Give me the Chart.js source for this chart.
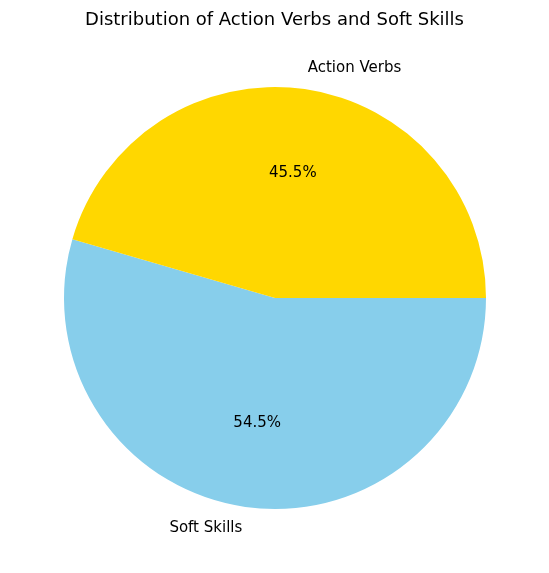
<!DOCTYPE html>
<html>
<head>
<meta charset="utf-8">
<script src="https://cdn.jsdelivr.net/npm/chart.js@4"></script>
<style>
  html, body { margin: 0; padding: 0; background: #fff; }
  canvas { display: block; }
</style>
</head>
<body>
<canvas id="pie" width="549" height="573"></canvas>
<script>
// order is clockwise from 3 o'clock, so matplotlib's counterclockwise pie comes out the same
const labels = ['Soft Skills', 'Action Verbs'];
const values = [54.5, 45.5];
const colors = ['#87CEEB', '#FFD700'];
const chartTitle = 'Distribution of Action Verbs and Soft Skills';

const pieTextPlugin = {
    id: 'pieTextPlugin',
    afterDraw: function (chart) {
        const c = chart.ctx;
        c.save();
        c.fillStyle = '#000';
        c.font = '18px "DejaVu Sans"';
        c.textAlign = 'center';
        c.textBaseline = 'middle';
        c.fillText(chartTitle, chart.width / 2, 20);

        const meta = chart.getDatasetMeta(0);
        const total = values.reduce((a, b) => a + b, 0);
        c.font = '15px "DejaVu Sans"';
        meta.data.forEach((arc, i) => {
            const p = arc.getProps(['x', 'y', 'startAngle', 'endAngle', 'outerRadius'], true);
            const mid = (p.startAngle + p.endAngle) / 2;
            const cos = Math.cos(mid), sin = Math.sin(mid);
            // percentage inside
            c.textAlign = 'center';
            c.fillText((values[i] / total * 100).toFixed(1) + '%',
                p.x + cos * p.outerRadius * 0.6, p.y + sin * p.outerRadius * 0.6);
            // category label outside
            c.textAlign = cos >= 0 ? 'left' : 'right';
            c.fillText(labels[i], p.x + cos * p.outerRadius * 1.1, p.y + sin * p.outerRadius * 1.1);
        });
        c.restore();
    }
};

new Chart(document.getElementById('pie').getContext('2d'), {
    type: 'pie',
    data: {
        labels: labels,
        datasets: [{ data: values, backgroundColor: colors, borderWidth: 0 }]
    },
    options: {
        responsive: false,
        animation: false,
        rotation: 90,
        layout: { padding: { left: 64, right: 63, top: 87, bottom: 64 } },
        plugins: { legend: { display: false }, tooltip: { enabled: false }, title: { display: false } }
    },
    plugins: [pieTextPlugin]
});
</script>
</body>
</html>
